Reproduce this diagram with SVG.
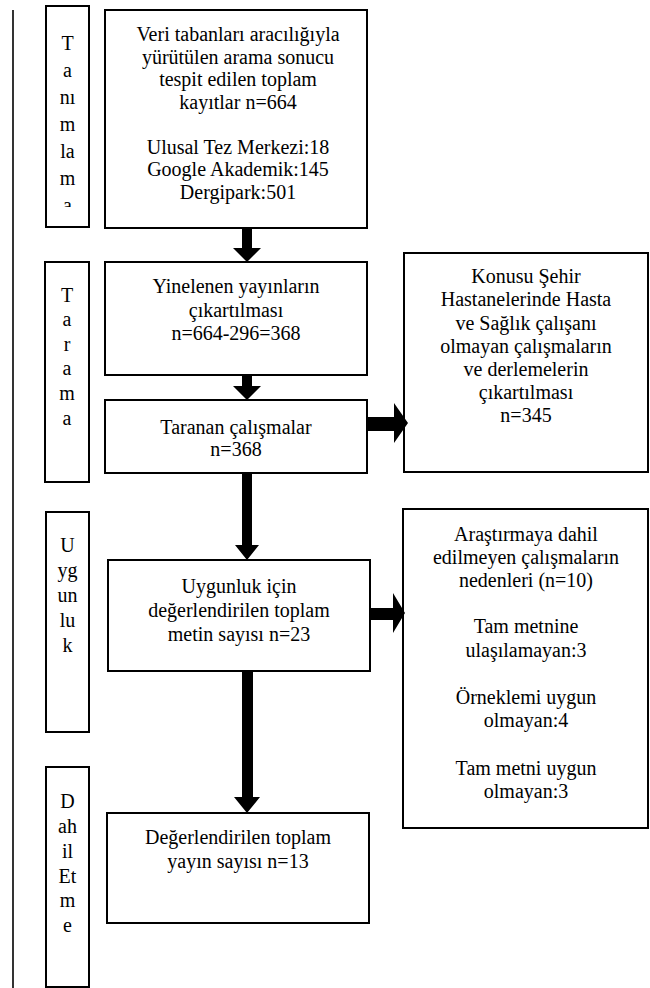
<svg xmlns="http://www.w3.org/2000/svg" width="650" height="988" viewBox="0 0 650 988">
<style>
.box{fill:#fff;stroke:#000;stroke-width:2}
.t{font-family:"Liberation Serif","Times New Roman",serif;font-size:20px;fill:#000;text-anchor:middle}
.l{font-family:"Liberation Serif","Times New Roman",serif;font-size:20px;fill:#000;text-anchor:middle}
.a{fill:#000}
</style>
<defs>
<clipPath id="c1"><rect x="46" y="6" width="43" height="201"/></clipPath>
</defs>
<rect width="650" height="988" fill="#fff"/>
<line x1="13" y1="10" x2="13" y2="988" stroke="#000" stroke-width="1.6"/>

<g id="lbl-tanimlama">
<rect class="box" x="46" y="6" width="43" height="221"/>
<g clip-path="url(#c1)">
<text class="l" x="67.5" y="50">T</text>
<text class="l" x="67.5" y="77">a</text>
<text class="l" x="67.5" y="104">nı</text>
<text class="l" x="67.5" y="131">m</text>
<text class="l" x="67.5" y="158">la</text>
<text class="l" x="67.5" y="185">m</text>
<text class="l" x="67.5" y="212">a</text>
</g>
</g>
<g id="lbl-tarama">
<rect class="box" x="45" y="262" width="44" height="220"/>
<text class="l" x="67" y="302">T</text>
<text class="l" x="67" y="326">a</text>
<text class="l" x="67" y="351">r</text>
<text class="l" x="67" y="375">a</text>
<text class="l" x="67" y="400">m</text>
<text class="l" x="67" y="425">a</text>
</g>
<g id="lbl-uygunluk">
<rect class="box" x="46" y="512" width="43" height="220"/>
<text class="l" x="67.5" y="552">U</text>
<text class="l" x="67.5" y="577">yg</text>
<text class="l" x="67.5" y="602">un</text>
<text class="l" x="67.5" y="627">lu</text>
<text class="l" x="67.5" y="652">k</text>
</g>
<g id="lbl-dahil">
<rect class="box" x="46" y="767" width="43" height="220"/>
<text class="l" x="67.5" y="808">D</text>
<text class="l" x="67.5" y="833">ah</text>
<text class="l" x="67.5" y="858">il</text>
<text class="l" x="67.5" y="883">Et</text>
<text class="l" x="67.5" y="907">m</text>
<text class="l" x="67.5" y="932">e</text>
</g>

<g id="n1">
<rect class="box" x="105" y="10" width="262" height="218"/>
<text class="t" x="238" y="41">Veri tabanları aracılığıyla</text>
<text class="t" x="238" y="63.5">yürütülen arama sonucu</text>
<text class="t" x="238" y="86">tespit edilen toplam</text>
<text class="t" x="238" y="108.5">kayıtlar n=664</text>
<text class="t" x="238" y="153.5">Ulusal Tez Merkezi:18</text>
<text class="t" x="238" y="176">Google Akademik:145</text>
<text class="t" x="238" y="198.5">Dergipark:501</text>
</g>
<g id="n2">
<rect class="box" x="105" y="262" width="262" height="113"/>
<text class="t" x="236" y="293">Yinelenen yayınların</text>
<text class="t" x="236" y="316.5">çıkartılması</text>
<text class="t" x="236" y="340">n=664-296=368</text>
</g>
<g id="n3">
<rect class="box" x="105" y="400" width="262" height="73"/>
<text class="t" x="236" y="434">Taranan çalışmalar</text>
<text class="t" x="236" y="456">n=368</text>
</g>
<g id="n4">
<rect class="box" x="108" y="560" width="262" height="111"/>
<text class="t" x="239" y="593">Uygunluk için</text>
<text class="t" x="239" y="617">değerlendirilen toplam</text>
<text class="t" x="239" y="641">metin sayısı n=23</text>
</g>
<g id="n5">
<rect class="box" x="107" y="813" width="262" height="110"/>
<text class="t" x="238" y="844">Değerlendirilen toplam</text>
<text class="t" x="238" y="868">yayın sayısı n=13</text>
</g>
<g id="r1">
<rect class="box" x="404" y="253" width="244" height="219"/>
<text class="t" x="526" y="283">Konusu Şehir</text>
<text class="t" x="526" y="306">Hastanelerinde Hasta</text>
<text class="t" x="526" y="329.5">ve Sağlık çalışanı</text>
<text class="t" x="526" y="353">olmayan çalışmaların</text>
<text class="t" x="526" y="376">ve derlemelerin</text>
<text class="t" x="526" y="399">çıkartılması</text>
<text class="t" x="526" y="422">n=345</text>
</g>
<g id="r2">
<rect class="box" x="403" y="509" width="245" height="319"/>
<text class="t" x="526" y="541">Araştırmaya dahil</text>
<text class="t" x="526" y="564">edilmeyen çalışmaların</text>
<text class="t" x="526" y="587">nedenleri (n=10)</text>
<text class="t" x="526" y="633">Tam metnine</text>
<text class="t" x="526" y="657">ulaşılamayan:3</text>
<text class="t" x="526" y="704">Örneklemi uygun</text>
<text class="t" x="526" y="727">olmayan:4</text>
<text class="t" x="526" y="775">Tam metni uygun</text>
<text class="t" x="526" y="798">olmayan:3</text>
</g>

<g id="connectors">
<polygon class="a" points="242,229 252,229 252,248 261,248 247,262 233,248 242,248"/>
<polygon class="a" points="242,376 252,376 252,386 261,386 247,400 233,386 242,386"/>
<polygon class="a" points="242,474 252,474 252,545 259,545 247,560 235,545 242,545"/>
<polygon class="a" points="242,672 253,672 253,797 260,797 247,813 234,797 242,797"/>
<polygon class="a" points="368,417 394,417 394,403 408,423 394,443 394,431 368,431"/>
<polygon class="a" points="371,608 393,608 393,593 405,613 393,633 393,620 371,620"/>
</g>
</svg>
